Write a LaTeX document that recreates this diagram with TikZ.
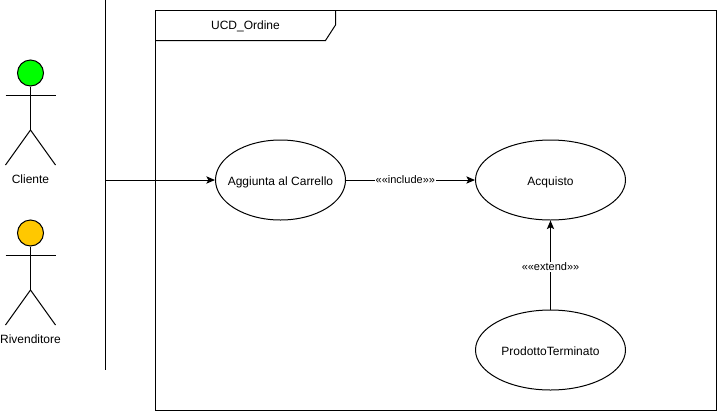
\documentclass[tikz,border=0pt]{standalone}
\usepackage{fontspec}
\setmainfont{Liberation Sans}
\usetikzlibrary{arrows.meta,shapes.geometric}
\definecolor{actorgreen}{HTML}{00FF00}
\definecolor{actoramber}{HTML}{FFC800}
\newcommand{\uctext}[1]{\raisebox{-4pt}[0pt][0pt]{\makebox[0pt]{#1}}}
\tikzset{
  px/.style={x=0.75pt,y=-0.75pt},
  ln/.style={line width=0.75pt,draw=black},
  usecase/.style={ln,ellipse,inner sep=0pt,font=\fontsize{9}{11}\selectfont},
  tiny label/.style={fill=white,inner sep=0.6pt,font=\fontsize{8.25}{10}\selectfont},
  actorlabel/.style={inner sep=0pt,font=\fontsize{9}{11}\selectfont},
  head/.style={ln,circle,inner sep=0pt,minimum size=19.5pt},
  conn/.style={ln,-{Stealth[length=6.5pt,width=5.5pt,inset=1.5pt]}}
}
\begin{document}
\begin{tikzpicture}[px]
\useasboundingbox (0,0) rectangle (717,411);
% frame
\draw[ln] (155.5,10.5) rectangle (716,410.5);
\draw[ln] (155.5,40.5) -- (325.5,40.5) -- (335.5,25) -- (335.5,10.5);
\node[actorlabel] (frametitle) at (245.5,26) {UCD\_Ordine};
% actor Cliente
\node[head,fill=actorgreen] (h1) at (30.5,73) {};
\coordinate (hip1) at (30.5,130);
\draw[ln] (h1.south) -- (hip1);
\draw[ln] (5.5,95) -- (55.5,95);
\draw[ln] (5.5,165) -- (hip1) -- (55.5,165);
\node[actorlabel] (l1) at (30.5,179) {Cliente};
% actor Rivenditore
\node[head,fill=actoramber] (h2) at (30.5,233) {};
\coordinate (hip2) at (30.5,290);
\draw[ln] (h2.south) -- (hip2);
\draw[ln] (5.5,255) -- (55.5,255);
\draw[ln] (5.5,325) -- (hip2) -- (55.5,325);
\node[actorlabel] (l2) at (30.5,339) {Rivenditore};
% bar
\coordinate (bartop) at (105.5,0);
\coordinate (barbot) at (105.5,370);
\coordinate (barout) at (105.5,180);
\draw[ln] (bartop) -- (barbot);
% use cases
\node[usecase,minimum width=97.5pt,minimum height=60pt] (add) at (280.5,180) {\uctext{Aggiunta al Carrello}};
\node[usecase,minimum width=112.5pt,minimum height=60pt] (buy) at (550.5,180) {\uctext{Acquisto}};
\node[usecase,minimum width=112.5pt,minimum height=60pt] (end) at (550.5,350) {\uctext{ProdottoTerminato}};
% connectors
\draw[conn] (barout) -- (add.west);
\draw[conn] (add.east) -- node[tiny label,pos=0.46] (inc) {\raisebox{-0.6pt}{««include»»}} (buy.west);
\draw[conn] (end.north) -- node[tiny label,pos=0.478] (ext) {\raisebox{-0.6pt}{««extend»»}} (buy.south);
\end{tikzpicture}
\end{document}
